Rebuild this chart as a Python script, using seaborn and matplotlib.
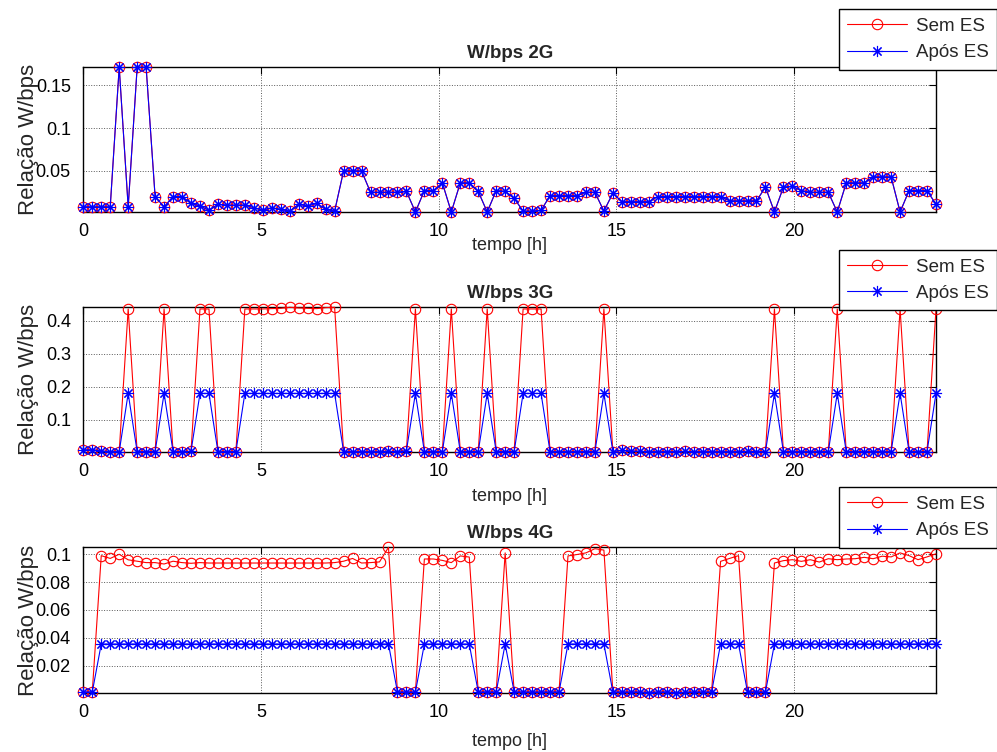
import numpy as np
import pandas as pd
import matplotlib
matplotlib.use("Agg")
import matplotlib.pyplot as plt
import seaborn as sns

# Time axis: 96 samples over one day
hours = np.linspace(0, 24, 96)

series_names = ["Sem ES", "Após ES"]
titles = ["W/bps 2G", "W/bps 3G", "W/bps 4G"]

wbps_2g_sem = [
    .008, .008, .008, .008, .171, .008, .171, .171, .020, .008, .020, .020,
    .012, .009, .004, .011, .010, .010, .010, .007, .004, .007, .005, .003,
    .011, .009, .012, .005, .003, .050, .050, .050, .025, .025, .025, .025,
    .026, .002, .027, .027, .036, .002, .036, .036, .026, .002, .027, .026,
    .018, .003, .003, .004, .021, .021, .021, .021, .025, .025, .003, .024,
    .014, .014, .014, .014, .020, .020, .020, .020, .020, .020, .020, .020,
    .015, .015, .015, .015, .031, .002, .031, .032, .027, .025, .025, .025,
    .002, .036, .036, .036, .043, .043, .043, .002, .027, .027, .027, .011,
]
wbps_2g_apos = [
    .008, .008, .008, .008, .171, .008, .171, .171, .020, .008, .020, .020,
    .012, .009, .004, .011, .010, .010, .010, .007, .004, .007, .005, .003,
    .011, .009, .012, .005, .003, .050, .050, .050, .025, .025, .025, .025,
    .026, .002, .027, .027, .036, .002, .036, .036, .026, .002, .027, .026,
    .018, .003, .003, .004, .021, .021, .021, .021, .025, .025, .003, .024,
    .014, .014, .014, .014, .020, .020, .020, .020, .020, .020, .020, .020,
    .015, .015, .015, .015, .031, .002, .031, .032, .027, .025, .025, .025,
    .002, .036, .036, .036, .043, .043, .043, .002, .027, .027, .027, .011,
]

wbps_3g_sem = [
    .009, .010, .006, .004, .004, .435, .004, .004, .004, .435, .004, .004,
    .005, .435, .435, .004, .004, .004, .435, .435, .435, .436, .437, .440,
    .438, .437, .436, .439, .440, .004, .004, .004, .004, .004, .005, .004,
    .007, .435, .004, .004, .004, .435, .004, .004, .004, .435, .004, .004,
    .004, .435, .435, .435, .004, .004, .004, .004, .004, .004, .435, .004,
    .008, .006, .005, .004, .004, .004, .004, .005, .004, .004, .004, .004,
    .004, .004, .005, .004, .004, .435, .004, .004, .004, .004, .004, .004,
    .435, .004, .004, .004, .004, .004, .004, .435, .004, .004, .004, .435,
]
wbps_3g_apos = [
    .009, .010, .006, .004, .004, .180, .004, .004, .004, .180, .004, .004,
    .005, .180, .180, .004, .004, .004, .180, .180, .180, .180, .180, .180,
    .180, .180, .180, .180, .180, .004, .004, .004, .004, .004, .005, .004,
    .007, .180, .004, .004, .004, .180, .004, .004, .004, .180, .004, .004,
    .004, .180, .180, .180, .004, .004, .004, .004, .004, .004, .180, .004,
    .008, .006, .005, .004, .004, .004, .004, .005, .004, .004, .004, .004,
    .004, .004, .005, .004, .004, .180, .004, .004, .004, .004, .004, .004,
    .180, .004, .004, .004, .004, .004, .004, .180, .004, .004, .004, .180,
]

wbps_4g_sem = [
    .0010, .0010, .0990, .0970, .1000, .0960, .0950, .0940, .0940, .0930, .0950, .0940,
    .0935, .0940, .0937, .0937, .0937, .0937, .0937, .0937, .0937, .0937, .0937, .0937,
    .0937, .0937, .0937, .0937, .0940, .0950, .0970, .0937, .0940, .0945, .1050, .0010,
    .0010, .0010, .0966, .0966, .0956, .0940, .0988, .0980, .0010, .0010, .0010, .1010,
    .0010, .0010, .0010, .0010, .0010, .0010, .0988, .0998, .1010, .1040, .1030, .0010,
    .0010, .0010, .0010, .0006, .0010, .0010, .0005, .0008, .0010, .0010, .0010, .0949,
    .0970, .0990, .0010, .0010, .0010, .0937, .0954, .0961, .0949, .0961, .0944, .0968,
    .0961, .0966, .0968, .0978, .0968, .0986, .0981, .1010, .0990, .0961, .0981, .1003,
]
wbps_4g_apos = [
    .0010, .0010, .0355, .0355, .0355, .0355, .0355, .0355, .0355, .0355, .0355, .0355,
    .0355, .0355, .0355, .0355, .0355, .0355, .0355, .0355, .0355, .0355, .0355, .0355,
    .0355, .0355, .0355, .0355, .0355, .0355, .0355, .0355, .0355, .0355, .0355, .0010,
    .0010, .0010, .0355, .0355, .0355, .0355, .0355, .0355, .0010, .0010, .0010, .0355,
    .0010, .0010, .0010, .0010, .0010, .0010, .0355, .0355, .0355, .0355, .0355, .0010,
    .0010, .0010, .0010, .0006, .0010, .0010, .0005, .0008, .0010, .0010, .0010, .0355,
    .0355, .0355, .0010, .0010, .0010, .0355, .0355, .0355, .0355, .0355, .0355, .0355,
    .0355, .0355, .0355, .0355, .0355, .0355, .0355, .0355, .0355, .0355, .0355, .0355,
]

x_ticks = [0, 5, 10, 15, 20]
y_ticks = [
    [0.05, 0.1, 0.15],
    [0.1, 0.2, 0.3, 0.4],
    [0.02, 0.04, 0.06, 0.08, 0.1],
]
y_tick_labels = [
    ["0.05", "0.1", "0.15"],
    ["0.1", "0.2", "0.3", "0.4"],
    ["0.02", "0.04", "0.06", "0.08", "0.1"],
]

panels = [
    (wbps_2g_sem, wbps_2g_apos),
    (wbps_3g_sem, wbps_3g_apos),
    (wbps_4g_sem, wbps_4g_apos),
]

sns.set_theme(style="white")
plt.rcParams["font.family"] = ["Liberation Sans", "DejaVu Sans"]
plt.rcParams["axes.unicode_minus"] = False

W, H = 997, 752
fig = plt.figure(figsize=(W / 100, H / 100), dpi=100)
fig.patch.set_facecolor("white")

# axes boxes in pixels: (top, bottom)
boxes = [(67.3, 212.0), (307.3, 451.7), (547.3, 692.7)]
left_px, right_px = 83.3, 936.0
legend_tops = [9, 250, 487]
xlabel_pads = [-2, 6, 9]

for i, ((sem, apos), (top, bot)) in enumerate(zip(panels, boxes)):
    ax = fig.add_axes([left_px / W, 1 - bot / H, (right_px - left_px) / W, (bot - top) / H])
    df = pd.DataFrame({"tempo": hours, series_names[0]: sem, series_names[1]: apos})

    sns.lineplot(data=df, x="tempo", y=series_names[0], ax=ax, color="red",
                 lw=0.8, marker="o", ms=7.5, mfc="none", mec="red", mew=0.8,
                 label=series_names[0], legend=False, zorder=3, clip_on=False)
    sns.lineplot(data=df, x="tempo", y=series_names[1], ax=ax, color="blue",
                 lw=0.8, marker=(8, 2, 0), ms=8, mec="blue", mew=0.8,
                 label=series_names[1], legend=False, zorder=4, clip_on=False)

    vals = np.concatenate([sem, apos])
    ax.set_xlim(0, 24)
    ax.set_ylim(vals.min(), vals.max())
    ax.set_xticks(x_ticks)
    ax.set_xticklabels([str(t) for t in x_ticks])
    ax.set_yticks(y_ticks[i])
    ax.set_yticklabels(y_tick_labels[i])

    ax.grid(True, ls=":", color="0.35", lw=0.7)
    ax.tick_params(direction="in", top=True, right=True, length=5, width=0.8,
                   labelsize=13, colors="black")
    ax.tick_params(axis="x", pad=8)
    ax.tick_params(axis="y", pad=9)
    for sp in ax.spines.values():
        sp.set_visible(True)
        sp.set_color("black")
        sp.set_linewidth(1.0)

    ax.set_title(titles[i], fontweight="bold", fontsize=13.5, pad=7)
    ax.set_xlabel("tempo [h]", fontsize=13, labelpad=xlabel_pads[i])
    ax.set_ylabel("Relação W/bps", fontsize=16)
    ax.yaxis.set_label_coords(-0.052, 0.5)

    handles, labels = ax.get_legend_handles_labels()
    leg = ax.legend(handles, labels, loc="upper right",
                    bbox_to_anchor=(1.0, 1 - legend_tops[i] / H),
                    bbox_transform=fig.transFigure, fontsize=13.5,
                    frameon=True, fancybox=False, framealpha=1,
                    edgecolor="black", borderaxespad=0, borderpad=0.45,
                    handlelength=3.2, handletextpad=0.45, labelspacing=0.5)
    leg.get_frame().set_linewidth(1.0)
    leg.set_zorder(10)

fig.savefig("out.png", dpi=100, facecolor="white")
